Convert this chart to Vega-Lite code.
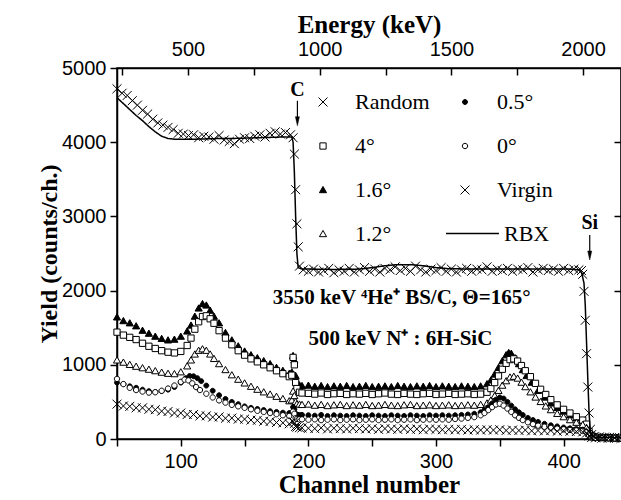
{
"$schema":"https://vega.github.io/schema/vega-lite/v6.json",
"width":504,"height":371,
"autosize":{"type":"none"},
"padding":{"left":117,"top":68,"right":0,"bottom":61},
"background":"white",
"config":{
"view":{"stroke":"black","strokeWidth":1.5},
"axis":{"domainColor":"black","domainWidth":1.5,"tickColor":"black","tickWidth":1.5,"grid":false,"labelColor":"black","labelFont":"Liberation Sans","labelFontSize":20,"titleColor":"black","titleFont":"Liberation Serif","titleFontWeight":"bold","titleFontSize":25,"labelFlush":false,"format":"d"}
},
"datasets":{
"pts":[
{"s":"1.6°","c":50,"y":1640},{"s":"1.6°","c":55,"y":1590},{"s":"1.6°","c":60,"y":1560},{"s":"1.6°","c":65,"y":1520},{"s":"1.6°","c":70,"y":1460},{"s":"1.6°","c":75,"y":1420},{"s":"1.6°","c":80,"y":1380},{"s":"1.6°","c":85,"y":1350},{"s":"1.6°","c":90,"y":1330},{"s":"1.6°","c":95,"y":1340},{"s":"1.6°","c":100,"y":1380},{"s":"1.6°","c":105,"y":1450},{"s":"1.6°","c":108,"y":1530},{"s":"1.6°","c":111,"y":1650},{"s":"1.6°","c":114,"y":1760},{"s":"1.6°","c":117,"y":1820},{"s":"1.6°","c":120,"y":1800},{"s":"1.6°","c":123,"y":1730},{"s":"1.6°","c":126,"y":1650},{"s":"1.6°","c":130,"y":1560},{"s":"1.6°","c":135,"y":1430},{"s":"1.6°","c":140,"y":1330},{"s":"1.6°","c":145,"y":1250},{"s":"1.6°","c":150,"y":1180},{"s":"1.6°","c":155,"y":1130},{"s":"1.6°","c":160,"y":1090},{"s":"1.6°","c":165,"y":1050},{"s":"1.6°","c":170,"y":1010},{"s":"1.6°","c":175,"y":960},{"s":"1.6°","c":180,"y":920},{"s":"1.6°","c":185,"y":880},{"s":"1.6°","c":187,"y":900},{"s":"1.6°","c":188,"y":1120},{"s":"1.6°","c":189,"y":1060},{"s":"1.6°","c":190,"y":850},{"s":"1.6°","c":191,"y":760},{"s":"1.6°","c":193,"y":725},{"s":"1.6°","c":195,"y":715},
{"s":"1.6°","c":200,"y":720},{"s":"1.6°","c":205,"y":705},{"s":"1.6°","c":210,"y":715},{"s":"1.6°","c":215,"y":700},{"s":"1.6°","c":220,"y":710},{"s":"1.6°","c":225,"y":705},{"s":"1.6°","c":230,"y":715},{"s":"1.6°","c":235,"y":700},{"s":"1.6°","c":240,"y":705},{"s":"1.6°","c":245,"y":715},{"s":"1.6°","c":250,"y":700},{"s":"1.6°","c":255,"y":705},{"s":"1.6°","c":260,"y":710},{"s":"1.6°","c":265,"y":700},{"s":"1.6°","c":270,"y":715},{"s":"1.6°","c":275,"y":705},{"s":"1.6°","c":280,"y":700},{"s":"1.6°","c":285,"y":710},{"s":"1.6°","c":290,"y":705},{"s":"1.6°","c":295,"y":715},{"s":"1.6°","c":300,"y":700},{"s":"1.6°","c":305,"y":710},{"s":"1.6°","c":310,"y":705},{"s":"1.6°","c":315,"y":700},{"s":"1.6°","c":320,"y":710},{"s":"1.6°","c":325,"y":705},{"s":"1.6°","c":330,"y":700},{"s":"1.6°","c":335,"y":710},
{"s":"1.6°","c":340,"y":740},{"s":"1.6°","c":343,"y":790},{"s":"1.6°","c":346,"y":870},{"s":"1.6°","c":349,"y":960},{"s":"1.6°","c":352,"y":1050},{"s":"1.6°","c":355,"y":1130},{"s":"1.6°","c":357,"y":1160},{"s":"1.6°","c":359,"y":1150},{"s":"1.6°","c":362,"y":1090},{"s":"1.6°","c":365,"y":1010},{"s":"1.6°","c":368,"y":930},{"s":"1.6°","c":371,"y":850},{"s":"1.6°","c":375,"y":760},{"s":"1.6°","c":380,"y":650},{"s":"1.6°","c":385,"y":560},{"s":"1.6°","c":390,"y":480},{"s":"1.6°","c":395,"y":420},{"s":"1.6°","c":400,"y":370},{"s":"1.6°","c":405,"y":320},{"s":"1.6°","c":410,"y":280},{"s":"1.6°","c":415,"y":240},{"s":"1.6°","c":418,"y":190},{"s":"1.6°","c":420,"y":100},{"s":"1.6°","c":422,"y":40},{"s":"1.6°","c":425,"y":25},{"s":"1.6°","c":430,"y":20},{"s":"1.6°","c":435,"y":18},{"s":"1.6°","c":440,"y":15},{"s":"1.6°","c":445,"y":12},
{"s":"4°","c":50,"y":1440},{"s":"4°","c":55,"y":1400},{"s":"4°","c":60,"y":1370},{"s":"4°","c":65,"y":1340},{"s":"4°","c":70,"y":1290},{"s":"4°","c":75,"y":1250},{"s":"4°","c":80,"y":1220},{"s":"4°","c":85,"y":1190},{"s":"4°","c":90,"y":1170},{"s":"4°","c":95,"y":1160},{"s":"4°","c":100,"y":1180},{"s":"4°","c":105,"y":1260},{"s":"4°","c":108,"y":1360},{"s":"4°","c":111,"y":1480},{"s":"4°","c":114,"y":1580},{"s":"4°","c":117,"y":1650},{"s":"4°","c":120,"y":1660},{"s":"4°","c":123,"y":1620},{"s":"4°","c":126,"y":1560},{"s":"4°","c":130,"y":1460},{"s":"4°","c":135,"y":1360},{"s":"4°","c":140,"y":1270},{"s":"4°","c":145,"y":1190},{"s":"4°","c":150,"y":1130},{"s":"4°","c":155,"y":1080},{"s":"4°","c":160,"y":1040},{"s":"4°","c":165,"y":1000},{"s":"4°","c":170,"y":960},{"s":"4°","c":175,"y":920},{"s":"4°","c":180,"y":880},{"s":"4°","c":185,"y":840},{"s":"4°","c":187,"y":860},{"s":"4°","c":188,"y":1100},{"s":"4°","c":189,"y":1000},{"s":"4°","c":190,"y":760},{"s":"4°","c":191,"y":680},{"s":"4°","c":193,"y":630},{"s":"4°","c":195,"y":620},
{"s":"4°","c":200,"y":615},{"s":"4°","c":205,"y":605},{"s":"4°","c":210,"y":620},{"s":"4°","c":215,"y":600},{"s":"4°","c":220,"y":610},{"s":"4°","c":225,"y":615},{"s":"4°","c":230,"y":600},{"s":"4°","c":235,"y":610},{"s":"4°","c":240,"y":605},{"s":"4°","c":245,"y":615},{"s":"4°","c":250,"y":600},{"s":"4°","c":255,"y":610},{"s":"4°","c":260,"y":620},{"s":"4°","c":265,"y":605},{"s":"4°","c":270,"y":600},{"s":"4°","c":275,"y":615},{"s":"4°","c":280,"y":605},{"s":"4°","c":285,"y":600},{"s":"4°","c":290,"y":610},{"s":"4°","c":295,"y":615},{"s":"4°","c":300,"y":600},{"s":"4°","c":305,"y":605},{"s":"4°","c":310,"y":615},{"s":"4°","c":315,"y":600},{"s":"4°","c":320,"y":605},{"s":"4°","c":325,"y":610},{"s":"4°","c":330,"y":600},{"s":"4°","c":335,"y":605},
{"s":"4°","c":340,"y":630},{"s":"4°","c":343,"y":680},{"s":"4°","c":346,"y":760},{"s":"4°","c":349,"y":850},{"s":"4°","c":352,"y":940},{"s":"4°","c":355,"y":1020},{"s":"4°","c":358,"y":1070},{"s":"4°","c":361,"y":1080},{"s":"4°","c":364,"y":1050},{"s":"4°","c":367,"y":990},{"s":"4°","c":370,"y":920},{"s":"4°","c":374,"y":840},{"s":"4°","c":378,"y":750},{"s":"4°","c":382,"y":670},{"s":"4°","c":386,"y":600},{"s":"4°","c":390,"y":530},{"s":"4°","c":395,"y":460},{"s":"4°","c":400,"y":400},{"s":"4°","c":405,"y":350},{"s":"4°","c":410,"y":300},{"s":"4°","c":415,"y":255},{"s":"4°","c":418,"y":200},{"s":"4°","c":420,"y":100},{"s":"4°","c":422,"y":40},{"s":"4°","c":425,"y":25},{"s":"4°","c":430,"y":20},{"s":"4°","c":435,"y":18},{"s":"4°","c":440,"y":15},{"s":"4°","c":445,"y":12},
{"s":"1.2°","c":50,"y":1060},{"s":"1.2°","c":55,"y":1030},{"s":"1.2°","c":60,"y":1000},{"s":"1.2°","c":65,"y":975},{"s":"1.2°","c":70,"y":955},{"s":"1.2°","c":75,"y":935},{"s":"1.2°","c":80,"y":915},{"s":"1.2°","c":85,"y":895},{"s":"1.2°","c":90,"y":880},{"s":"1.2°","c":95,"y":875},{"s":"1.2°","c":100,"y":900},{"s":"1.2°","c":105,"y":980},{"s":"1.2°","c":108,"y":1060},{"s":"1.2°","c":111,"y":1140},{"s":"1.2°","c":114,"y":1190},{"s":"1.2°","c":117,"y":1210},{"s":"1.2°","c":120,"y":1190},{"s":"1.2°","c":123,"y":1140},{"s":"1.2°","c":126,"y":1080},{"s":"1.2°","c":130,"y":1010},{"s":"1.2°","c":135,"y":930},{"s":"1.2°","c":140,"y":860},{"s":"1.2°","c":145,"y":800},{"s":"1.2°","c":150,"y":750},{"s":"1.2°","c":155,"y":705},{"s":"1.2°","c":160,"y":665},{"s":"1.2°","c":165,"y":630},{"s":"1.2°","c":170,"y":600},{"s":"1.2°","c":175,"y":570},{"s":"1.2°","c":180,"y":540},{"s":"1.2°","c":185,"y":510},{"s":"1.2°","c":187,"y":520},{"s":"1.2°","c":188,"y":640},{"s":"1.2°","c":189,"y":580},{"s":"1.2°","c":190,"y":500},{"s":"1.2°","c":191,"y":470},{"s":"1.2°","c":193,"y":465},{"s":"1.2°","c":195,"y":460},
{"s":"1.2°","c":200,"y":465},{"s":"1.2°","c":205,"y":450},{"s":"1.2°","c":210,"y":460},{"s":"1.2°","c":215,"y":445},{"s":"1.2°","c":220,"y":455},{"s":"1.2°","c":225,"y":460},{"s":"1.2°","c":230,"y":445},{"s":"1.2°","c":235,"y":455},{"s":"1.2°","c":240,"y":450},{"s":"1.2°","c":245,"y":460},{"s":"1.2°","c":250,"y":445},{"s":"1.2°","c":255,"y":450},{"s":"1.2°","c":260,"y":460},{"s":"1.2°","c":265,"y":450},{"s":"1.2°","c":270,"y":445},{"s":"1.2°","c":275,"y":455},{"s":"1.2°","c":280,"y":460},{"s":"1.2°","c":285,"y":445},{"s":"1.2°","c":290,"y":450},{"s":"1.2°","c":295,"y":455},{"s":"1.2°","c":300,"y":445},{"s":"1.2°","c":305,"y":450},{"s":"1.2°","c":310,"y":455},{"s":"1.2°","c":315,"y":445},{"s":"1.2°","c":320,"y":450},{"s":"1.2°","c":325,"y":455},{"s":"1.2°","c":330,"y":450},{"s":"1.2°","c":335,"y":460},
{"s":"1.2°","c":340,"y":480},{"s":"1.2°","c":343,"y":520},{"s":"1.2°","c":346,"y":580},{"s":"1.2°","c":349,"y":650},{"s":"1.2°","c":352,"y":720},{"s":"1.2°","c":355,"y":780},{"s":"1.2°","c":358,"y":830},{"s":"1.2°","c":361,"y":840},{"s":"1.2°","c":364,"y":815},{"s":"1.2°","c":367,"y":760},{"s":"1.2°","c":370,"y":700},{"s":"1.2°","c":374,"y":630},{"s":"1.2°","c":378,"y":560},{"s":"1.2°","c":382,"y":500},{"s":"1.2°","c":386,"y":440},{"s":"1.2°","c":390,"y":390},{"s":"1.2°","c":395,"y":340},{"s":"1.2°","c":400,"y":295},{"s":"1.2°","c":405,"y":255},{"s":"1.2°","c":410,"y":220},{"s":"1.2°","c":415,"y":190},{"s":"1.2°","c":418,"y":150},{"s":"1.2°","c":420,"y":70},{"s":"1.2°","c":422,"y":30},{"s":"1.2°","c":425,"y":20},{"s":"1.2°","c":430,"y":15},{"s":"1.2°","c":435,"y":12},{"s":"1.2°","c":440,"y":10},{"s":"1.2°","c":445,"y":10},
{"s":"0.5°","c":50,"y":760},{"s":"0.5°","c":55,"y":740},{"s":"0.5°","c":60,"y":710},{"s":"0.5°","c":65,"y":690},{"s":"0.5°","c":70,"y":665},{"s":"0.5°","c":75,"y":645},{"s":"0.5°","c":80,"y":635},{"s":"0.5°","c":85,"y":645},{"s":"0.5°","c":90,"y":665},{"s":"0.5°","c":95,"y":700},{"s":"0.5°","c":100,"y":760},{"s":"0.5°","c":104,"y":820},{"s":"0.5°","c":107,"y":850},{"s":"0.5°","c":110,"y":845},{"s":"0.5°","c":113,"y":820},{"s":"0.5°","c":116,"y":780},{"s":"0.5°","c":120,"y":720},{"s":"0.5°","c":125,"y":650},{"s":"0.5°","c":130,"y":590},{"s":"0.5°","c":135,"y":540},{"s":"0.5°","c":140,"y":500},{"s":"0.5°","c":145,"y":470},{"s":"0.5°","c":150,"y":440},{"s":"0.5°","c":155,"y":420},{"s":"0.5°","c":160,"y":405},{"s":"0.5°","c":165,"y":390},{"s":"0.5°","c":170,"y":375},{"s":"0.5°","c":175,"y":365},{"s":"0.5°","c":180,"y":355},{"s":"0.5°","c":185,"y":350},{"s":"0.5°","c":188,"y":430},{"s":"0.5°","c":189,"y":400},{"s":"0.5°","c":190,"y":340},{"s":"0.5°","c":191,"y":330},{"s":"0.5°","c":193,"y":325},
{"s":"0.5°","c":195,"y":325},{"s":"0.5°","c":200,"y":320},{"s":"0.5°","c":205,"y":315},{"s":"0.5°","c":210,"y":325},{"s":"0.5°","c":215,"y":310},{"s":"0.5°","c":220,"y":320},{"s":"0.5°","c":225,"y":315},{"s":"0.5°","c":230,"y":310},{"s":"0.5°","c":235,"y":320},{"s":"0.5°","c":240,"y":315},{"s":"0.5°","c":245,"y":310},{"s":"0.5°","c":250,"y":320},{"s":"0.5°","c":255,"y":315},{"s":"0.5°","c":260,"y":310},{"s":"0.5°","c":265,"y":320},{"s":"0.5°","c":270,"y":315},{"s":"0.5°","c":275,"y":310},{"s":"0.5°","c":280,"y":320},{"s":"0.5°","c":285,"y":315},{"s":"0.5°","c":290,"y":310},{"s":"0.5°","c":295,"y":320},{"s":"0.5°","c":300,"y":315},{"s":"0.5°","c":305,"y":320},{"s":"0.5°","c":310,"y":315},{"s":"0.5°","c":315,"y":320},{"s":"0.5°","c":320,"y":325},{"s":"0.5°","c":325,"y":330},{"s":"0.5°","c":330,"y":340},
{"s":"0.5°","c":335,"y":360},{"s":"0.5°","c":338,"y":390},{"s":"0.5°","c":341,"y":430},{"s":"0.5°","c":344,"y":480},{"s":"0.5°","c":347,"y":530},{"s":"0.5°","c":350,"y":560},{"s":"0.5°","c":353,"y":545},{"s":"0.5°","c":356,"y":500},{"s":"0.5°","c":359,"y":450},{"s":"0.5°","c":362,"y":400},{"s":"0.5°","c":365,"y":360},{"s":"0.5°","c":368,"y":325},{"s":"0.5°","c":372,"y":285},{"s":"0.5°","c":376,"y":255},{"s":"0.5°","c":380,"y":230},{"s":"0.5°","c":385,"y":205},{"s":"0.5°","c":390,"y":185},{"s":"0.5°","c":395,"y":170},{"s":"0.5°","c":400,"y":155},{"s":"0.5°","c":405,"y":145},{"s":"0.5°","c":410,"y":135},{"s":"0.5°","c":415,"y":125},{"s":"0.5°","c":418,"y":100},{"s":"0.5°","c":420,"y":50},{"s":"0.5°","c":422,"y":25},{"s":"0.5°","c":425,"y":18},{"s":"0.5°","c":430,"y":15},{"s":"0.5°","c":435,"y":12},{"s":"0.5°","c":440,"y":10},{"s":"0.5°","c":445,"y":10},
{"s":"0°","c":50,"y":810},{"s":"0°","c":55,"y":740},{"s":"0°","c":60,"y":690},{"s":"0°","c":65,"y":660},{"s":"0°","c":70,"y":640},{"s":"0°","c":75,"y":625},{"s":"0°","c":80,"y":630},{"s":"0°","c":85,"y":650},{"s":"0°","c":90,"y":680},{"s":"0°","c":95,"y":720},{"s":"0°","c":100,"y":770},{"s":"0°","c":103,"y":800},{"s":"0°","c":106,"y":790},{"s":"0°","c":109,"y":750},{"s":"0°","c":112,"y":700},{"s":"0°","c":115,"y":660},{"s":"0°","c":120,"y":610},{"s":"0°","c":125,"y":560},{"s":"0°","c":130,"y":520},{"s":"0°","c":135,"y":490},{"s":"0°","c":140,"y":460},{"s":"0°","c":145,"y":440},{"s":"0°","c":150,"y":420},{"s":"0°","c":155,"y":400},{"s":"0°","c":160,"y":380},{"s":"0°","c":165,"y":365},{"s":"0°","c":170,"y":350},{"s":"0°","c":175,"y":335},{"s":"0°","c":180,"y":320},{"s":"0°","c":185,"y":310},{"s":"0°","c":188,"y":370},{"s":"0°","c":189,"y":340},{"s":"0°","c":190,"y":280},{"s":"0°","c":191,"y":270},{"s":"0°","c":193,"y":265},
{"s":"0°","c":195,"y":265},{"s":"0°","c":200,"y":260},{"s":"0°","c":205,"y":265},{"s":"0°","c":210,"y":255},{"s":"0°","c":215,"y":260},{"s":"0°","c":220,"y":265},{"s":"0°","c":225,"y":255},{"s":"0°","c":230,"y":260},{"s":"0°","c":235,"y":265},{"s":"0°","c":240,"y":255},{"s":"0°","c":245,"y":260},{"s":"0°","c":250,"y":265},{"s":"0°","c":255,"y":255},{"s":"0°","c":260,"y":260},{"s":"0°","c":265,"y":265},{"s":"0°","c":270,"y":255},{"s":"0°","c":275,"y":260},{"s":"0°","c":280,"y":265},{"s":"0°","c":285,"y":255},{"s":"0°","c":290,"y":260},{"s":"0°","c":295,"y":265},{"s":"0°","c":300,"y":260},{"s":"0°","c":305,"y":265},{"s":"0°","c":310,"y":260},{"s":"0°","c":315,"y":270},{"s":"0°","c":320,"y":275},{"s":"0°","c":325,"y":285},{"s":"0°","c":330,"y":295},
{"s":"0°","c":335,"y":320},{"s":"0°","c":338,"y":350},{"s":"0°","c":341,"y":390},{"s":"0°","c":344,"y":430},{"s":"0°","c":347,"y":465},{"s":"0°","c":350,"y":475},{"s":"0°","c":353,"y":450},{"s":"0°","c":356,"y":410},{"s":"0°","c":359,"y":365},{"s":"0°","c":362,"y":320},{"s":"0°","c":365,"y":285},{"s":"0°","c":368,"y":255},{"s":"0°","c":372,"y":225},{"s":"0°","c":376,"y":200},{"s":"0°","c":380,"y":180},{"s":"0°","c":385,"y":165},{"s":"0°","c":390,"y":150},{"s":"0°","c":395,"y":140},{"s":"0°","c":400,"y":130},{"s":"0°","c":405,"y":122},{"s":"0°","c":410,"y":115},{"s":"0°","c":415,"y":108},{"s":"0°","c":418,"y":90},{"s":"0°","c":420,"y":45},{"s":"0°","c":422,"y":22},{"s":"0°","c":425,"y":15},{"s":"0°","c":430,"y":12},{"s":"0°","c":435,"y":10},{"s":"0°","c":440,"y":10},{"s":"0°","c":445,"y":8},
{"s":"Virgin","c":50,"y":470},{"s":"Virgin","c":55,"y":445},{"s":"Virgin","c":60,"y":440},{"s":"Virgin","c":65,"y":420},{"s":"Virgin","c":70,"y":420},{"s":"Virgin","c":75,"y":400},{"s":"Virgin","c":80,"y":395},{"s":"Virgin","c":85,"y":375},{"s":"Virgin","c":90,"y":370},{"s":"Virgin","c":95,"y":350},{"s":"Virgin","c":100,"y":350},{"s":"Virgin","c":105,"y":330},{"s":"Virgin","c":110,"y":330},{"s":"Virgin","c":115,"y":312},{"s":"Virgin","c":120,"y":312},{"s":"Virgin","c":125,"y":295},{"s":"Virgin","c":130,"y":298},{"s":"Virgin","c":135,"y":280},{"s":"Virgin","c":140,"y":282},{"s":"Virgin","c":145,"y":268},{"s":"Virgin","c":150,"y":268},{"s":"Virgin","c":155,"y":255},{"s":"Virgin","c":160,"y":252},{"s":"Virgin","c":165,"y":240},{"s":"Virgin","c":170,"y":236},{"s":"Virgin","c":175,"y":222},{"s":"Virgin","c":180,"y":218},{"s":"Virgin","c":185,"y":205},{"s":"Virgin","c":188,"y":235},{"s":"Virgin","c":189,"y":210},{"s":"Virgin","c":190,"y":170},{"s":"Virgin","c":191,"y":160},{"s":"Virgin","c":193,"y":152},
{"s":"Virgin","c":195,"y":150},{"s":"Virgin","c":200,"y":145},{"s":"Virgin","c":205,"y":140},{"s":"Virgin","c":210,"y":150},{"s":"Virgin","c":215,"y":135},{"s":"Virgin","c":220,"y":145},{"s":"Virgin","c":225,"y":140},{"s":"Virgin","c":230,"y":135},{"s":"Virgin","c":235,"y":145},{"s":"Virgin","c":240,"y":140},{"s":"Virgin","c":245,"y":135},{"s":"Virgin","c":250,"y":140},{"s":"Virgin","c":255,"y":130},{"s":"Virgin","c":260,"y":140},{"s":"Virgin","c":265,"y":135},{"s":"Virgin","c":270,"y":130},{"s":"Virgin","c":275,"y":140},{"s":"Virgin","c":280,"y":130},{"s":"Virgin","c":285,"y":135},{"s":"Virgin","c":290,"y":125},{"s":"Virgin","c":295,"y":135},{"s":"Virgin","c":300,"y":130},{"s":"Virgin","c":305,"y":125},{"s":"Virgin","c":310,"y":130},{"s":"Virgin","c":315,"y":125},{"s":"Virgin","c":320,"y":130},{"s":"Virgin","c":325,"y":120},{"s":"Virgin","c":330,"y":125},{"s":"Virgin","c":335,"y":120},{"s":"Virgin","c":340,"y":125},{"s":"Virgin","c":345,"y":120},{"s":"Virgin","c":350,"y":125},{"s":"Virgin","c":355,"y":115},{"s":"Virgin","c":360,"y":120},{"s":"Virgin","c":365,"y":115},{"s":"Virgin","c":370,"y":120},{"s":"Virgin","c":375,"y":110},{"s":"Virgin","c":380,"y":115},{"s":"Virgin","c":385,"y":110},{"s":"Virgin","c":390,"y":115},{"s":"Virgin","c":395,"y":105},{"s":"Virgin","c":400,"y":110},{"s":"Virgin","c":405,"y":105},{"s":"Virgin","c":410,"y":100},{"s":"Virgin","c":415,"y":95},{"s":"Virgin","c":418,"y":80},{"s":"Virgin","c":420,"y":40},{"s":"Virgin","c":422,"y":20},{"s":"Virgin","c":425,"y":15},{"s":"Virgin","c":430,"y":12},{"s":"Virgin","c":435,"y":10},{"s":"Virgin","c":440,"y":10},{"s":"Virgin","c":445,"y":8},
{"s":"Random","c":50,"y":4720},{"s":"Random","c":54,"y":4660},{"s":"Random","c":58,"y":4630},{"s":"Random","c":62,"y":4560},{"s":"Random","c":66,"y":4500},{"s":"Random","c":70,"y":4430},{"s":"Random","c":74,"y":4380},{"s":"Random","c":78,"y":4310},{"s":"Random","c":82,"y":4260},{"s":"Random","c":86,"y":4230},{"s":"Random","c":90,"y":4200},{"s":"Random","c":94,"y":4170},{"s":"Random","c":98,"y":4120},{"s":"Random","c":102,"y":4110},{"s":"Random","c":106,"y":4090},{"s":"Random","c":110,"y":4100},{"s":"Random","c":114,"y":4060},{"s":"Random","c":118,"y":4080},{"s":"Random","c":122,"y":4070},{"s":"Random","c":126,"y":4040},{"s":"Random","c":130,"y":4090},{"s":"Random","c":134,"y":4030},{"s":"Random","c":138,"y":4010},{"s":"Random","c":142,"y":3980},{"s":"Random","c":146,"y":4040},{"s":"Random","c":150,"y":4060},{"s":"Random","c":154,"y":4050},{"s":"Random","c":158,"y":4080},{"s":"Random","c":162,"y":4100},{"s":"Random","c":166,"y":4070},{"s":"Random","c":170,"y":4120},{"s":"Random","c":174,"y":4140},{"s":"Random","c":178,"y":4110},{"s":"Random","c":182,"y":4130},{"s":"Random","c":186,"y":4100},{"s":"Random","c":188,"y":4060},{"s":"Random","c":189,"y":3840},{"s":"Random","c":190,"y":3360},{"s":"Random","c":191,"y":2900},{"s":"Random","c":192,"y":2590},{"s":"Random","c":193,"y":2330},
{"s":"Random","c":196,"y":2280},{"s":"Random","c":200,"y":2260},{"s":"Random","c":204,"y":2290},{"s":"Random","c":208,"y":2250},{"s":"Random","c":212,"y":2270},{"s":"Random","c":216,"y":2300},{"s":"Random","c":220,"y":2240},{"s":"Random","c":224,"y":2280},{"s":"Random","c":228,"y":2260},{"s":"Random","c":232,"y":2300},{"s":"Random","c":236,"y":2250},{"s":"Random","c":240,"y":2280},{"s":"Random","c":244,"y":2310},{"s":"Random","c":248,"y":2260},{"s":"Random","c":252,"y":2290},{"s":"Random","c":256,"y":2250},{"s":"Random","c":260,"y":2300},{"s":"Random","c":264,"y":2280},{"s":"Random","c":268,"y":2320},{"s":"Random","c":272,"y":2270},{"s":"Random","c":276,"y":2300},{"s":"Random","c":280,"y":2260},{"s":"Random","c":284,"y":2330},{"s":"Random","c":288,"y":2280},{"s":"Random","c":292,"y":2250},{"s":"Random","c":296,"y":2290},{"s":"Random","c":300,"y":2270},{"s":"Random","c":304,"y":2310},{"s":"Random","c":308,"y":2260},{"s":"Random","c":312,"y":2290},{"s":"Random","c":316,"y":2250},{"s":"Random","c":320,"y":2280},{"s":"Random","c":324,"y":2300},{"s":"Random","c":328,"y":2260},{"s":"Random","c":332,"y":2290},{"s":"Random","c":336,"y":2280},{"s":"Random","c":340,"y":2320},{"s":"Random","c":344,"y":2260},{"s":"Random","c":348,"y":2290},{"s":"Random","c":352,"y":2270},{"s":"Random","c":356,"y":2300},{"s":"Random","c":360,"y":2260},{"s":"Random","c":364,"y":2290},{"s":"Random","c":368,"y":2280},{"s":"Random","c":372,"y":2310},{"s":"Random","c":376,"y":2250},{"s":"Random","c":380,"y":2280},{"s":"Random","c":384,"y":2300},{"s":"Random","c":388,"y":2270},{"s":"Random","c":392,"y":2290},{"s":"Random","c":396,"y":2260},{"s":"Random","c":400,"y":2300},{"s":"Random","c":404,"y":2270},{"s":"Random","c":408,"y":2290},{"s":"Random","c":412,"y":2280},{"s":"Random","c":414,"y":2270},{"s":"Random","c":415,"y":2220},{"s":"Random","c":416,"y":1990},{"s":"Random","c":417,"y":1600},{"s":"Random","c":418,"y":1150},{"s":"Random","c":419,"y":700},{"s":"Random","c":420,"y":350},{"s":"Random","c":421,"y":130},{"s":"Random","c":422,"y":60},{"s":"Random","c":424,"y":35},{"s":"Random","c":428,"y":28},{"s":"Random","c":432,"y":25},{"s":"Random","c":436,"y":22},{"s":"Random","c":440,"y":20},{"s":"Random","c":444,"y":18}
],
"rbx":[
{"s":"RBX","c":50,"y":4600},{"s":"RBX","c":55,"y":4520},{"s":"RBX","c":60,"y":4440},{"s":"RBX","c":65,"y":4360},{"s":"RBX","c":70,"y":4290},{"s":"RBX","c":75,"y":4210},{"s":"RBX","c":80,"y":4140},{"s":"RBX","c":85,"y":4080},{"s":"RBX","c":90,"y":4050},{"s":"RBX","c":95,"y":4040},{"s":"RBX","c":100,"y":4040},{"s":"RBX","c":110,"y":4040},{"s":"RBX","c":120,"y":4045},{"s":"RBX","c":130,"y":4050},{"s":"RBX","c":140,"y":4050},{"s":"RBX","c":150,"y":4055},{"s":"RBX","c":160,"y":4060},{"s":"RBX","c":170,"y":4065},{"s":"RBX","c":180,"y":4070},{"s":"RBX","c":187,"y":4070},{"s":"RBX","c":188,"y":4000},{"s":"RBX","c":189,"y":3600},{"s":"RBX","c":190,"y":3000},{"s":"RBX","c":191,"y":2500},{"s":"RBX","c":192,"y":2310},{"s":"RBX","c":195,"y":2290},{"s":"RBX","c":200,"y":2290},{"s":"RBX","c":220,"y":2285},{"s":"RBX","c":240,"y":2290},{"s":"RBX","c":250,"y":2310},{"s":"RBX","c":260,"y":2335},{"s":"RBX","c":270,"y":2350},{"s":"RBX","c":280,"y":2350},{"s":"RBX","c":290,"y":2335},{"s":"RBX","c":300,"y":2310},{"s":"RBX","c":310,"y":2295},{"s":"RBX","c":330,"y":2290},{"s":"RBX","c":350,"y":2290},{"s":"RBX","c":370,"y":2290},{"s":"RBX","c":390,"y":2290},{"s":"RBX","c":405,"y":2290},{"s":"RBX","c":412,"y":2280},{"s":"RBX","c":414,"y":2250},{"s":"RBX","c":416,"y":2100},{"s":"RBX","c":417,"y":1800},{"s":"RBX","c":418,"y":1300},{"s":"RBX","c":419,"y":800},{"s":"RBX","c":420,"y":350},{"s":"RBX","c":421,"y":100},{"s":"RBX","c":422,"y":40},{"s":"RBX","c":425,"y":25},{"s":"RBX","c":445,"y":15}
],
"lab":[{"c":191.4,"y":4700,"t":"C"},{"c":420.5,"y":2909,"t":"Si"}],
"note":[{"c":172,"y":1903,"t":"3550 keV ⁴He⁺ BS/C, Θ=165°"},{"c":200,"y":1354,"t":"500 keV N⁺ : 6H-SiC"}],
"arr":[{"c":191.4,"y":4558,"y2":4283},{"c":420.5,"y":2748,"y2":2473}]
},
"layer":[
{"layer":[
{"data":{"name":"pts"},
"mark":{"type":"point","filled":false,"strokeWidth":1,"opacity":1,"size":80},
"encoding":{
"x":{"field":"c","type":"quantitative","scale":{"domain":[50,445],"nice":false,"zero":false},"axis":{"orient":"bottom","title":"Channel number","values":[50,100,150,200,250,300,350,400],"labelExpr":"datum.value % 100 === 0 ? datum.label : ''","tickSize":7,"labelPadding":5,"titlePadding":1}},
"y":{"field":"y","type":"quantitative","scale":{"domain":[0,5000],"nice":false},"axis":{"title":"Yield (counts/ch.)","titleFontSize":24,"values":[0,1000,2000,3000,4000,5000],"tickSize":7,"labelPadding":4,"titlePadding":0}},
"shape":{"field":"s","type":"nominal","scale":{"domain":["Random","4°","1.6°","1.2°","0.5°","0°","Virgin"],"range":["M-1,-1L1,1M-1,1L1,-1","M-0.7,-0.7H0.7V0.7H-0.7Z","M0,-0.8L0.8,0.6L-0.8,0.6Z","M0,-0.8L0.8,0.6L-0.8,0.6Z","M-0.55,0A0.55,0.55,0,1,1,0.55,0A0.55,0.55,0,1,1,-0.55,0Z","M-0.6,0A0.6,0.6,0,1,1,0.6,0A0.6,0.6,0,1,1,-0.6,0Z","M-1,-1L1,1M-1,1L1,-1"]},
"legend":{"orient":"none","legendX":195,"legendY":23,"columns":2,"title":null,"labelFont":"Liberation Serif","labelFontSize":22,"labelColor":"black","labelOffset":21,"columnPadding":24,"rowPadding":22,"symbolSize":80,"symbolStrokeWidth":1,"padding":0}},
"fill":{"field":"s","type":"nominal","scale":{"domain":["Random","4°","1.6°","1.2°","0.5°","0°","Virgin"],"range":["transparent","white","black","white","black","white","transparent"]}},
"stroke":{"field":"s","type":"nominal","scale":{"domain":["Random","4°","1.6°","1.2°","0.5°","0°","Virgin"],"range":["black","black","black","black","black","black","black"]}}
}},
{"data":{"name":"rbx"},
"mark":{"type":"line","strokeWidth":1.5,"stroke":"black","color":"black"},
"encoding":{
"x":{"field":"c","type":"quantitative"},
"y":{"field":"y","type":"quantitative"},
"strokeDash":{"field":"s","type":"nominal","scale":{"range":[[1,0]]},"legend":{"orient":"none","legendX":328,"legendY":138,"title":null,"labelFont":"Liberation Serif","labelFontSize":22,"labelColor":"black","symbolSize":2800,"symbolStrokeWidth":1.5,"symbolStrokeColor":"black","symbolType":"stroke","labelOffset":4,"padding":0}}
}},
{"data":{"name":"arr"},
"mark":{"type":"rule","stroke":"black","strokeWidth":1.2},
"encoding":{"x":{"field":"c","type":"quantitative"},"y":{"field":"y","type":"quantitative"},"y2":{"field":"y2"}}},
{"data":{"name":"arr"},
"mark":{"type":"point","shape":"M-0.45,-1L0.45,-1L0,1Z","filled":true,"fill":"black","stroke":"black","strokeWidth":0.5,"size":80,"opacity":1},
"encoding":{"x":{"field":"c","type":"quantitative"},"y":{"field":"y2","type":"quantitative"}}},
{"data":{"name":"lab"},
"mark":{"type":"text","font":"Liberation Serif","fontWeight":"bold","fontSize":20,"align":"center","baseline":"middle","color":"black"},
"encoding":{"x":{"field":"c","type":"quantitative"},"y":{"field":"y","type":"quantitative"},"text":{"field":"t"}}},
{"data":{"name":"note"},
"mark":{"type":"text","font":"Liberation Serif","fontWeight":"bold","fontSize":21,"align":"left","baseline":"middle","color":"black"},
"encoding":{"x":{"field":"c","type":"quantitative"},"y":{"field":"y","type":"quantitative"},"text":{"field":"t"}}}
]},
{"data":{"values":[{"e":500,"v":2500},{"e":2000,"v":2500}]},
"mark":{"type":"point","opacity":0},
"encoding":{
"x":{"field":"e","type":"quantitative","scale":{"domain":[230.4,2144],"nice":false,"zero":false},"axis":{"orient":"top","title":"Energy (keV)","values":[250,500,750,1000,1250,1500,1750,2000],"labelExpr":"datum.value % 500 === 0 ? datum.label : ''","tickSize":-7,"labelPadding":16,"titlePadding":2}},
"y":{"field":"v","type":"quantitative","scale":{"domain":[0,5000],"nice":false},"axis":{"orient":"right","title":null,"labels":false,"values":[1000,2000,3000,4000],"tickSize":-7}}
}}
],
"resolve":{"scale":{"x":"independent","y":"independent"},"axis":{"x":"independent","y":"independent"}}
}
